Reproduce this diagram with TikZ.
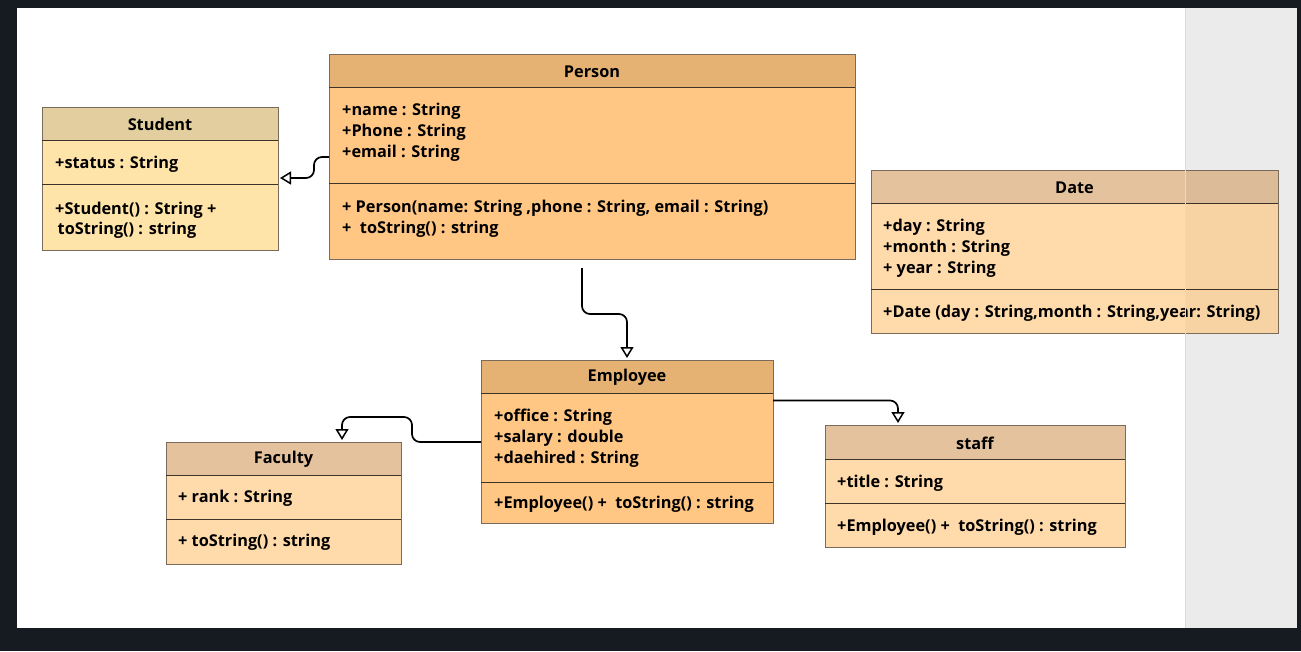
\documentclass[tikz,border=0pt]{standalone}
\usepackage{fontspec}
\setmainfont{Open Sans}
\usetikzlibrary{arrows.meta,calc}
\definecolor{frame}{HTML}{161B22}
\definecolor{panel}{HTML}{EBEBEB}
\definecolor{panelline}{HTML}{DADADA}
\definecolor{boxline}{HTML}{7A6B5A}
\definecolor{sepline}{HTML}{3D3329}
\definecolor{personHead}{HTML}{E5B274}
\definecolor{personBody}{HTML}{FFC684}
\definecolor{studentHead}{HTML}{E2CE9E}
\definecolor{studentBody}{HTML}{FFE4AA}
\definecolor{dateHead}{HTML}{E4C29E}
\definecolor{dateBody}{HTML}{FFDAAA}
\tikzset{
  sect/.style={draw=boxline, line width=1pt, inner sep=0pt, outer sep=0pt, anchor=north west},
  sepl/.style={draw=sepline, line width=1pt},
  lbl/.style={anchor=west, inner sep=0pt, align=left, font=\bfseries\fontsize{16.3}{21}\selectfont},
  ttl/.style={inner sep=0pt, font=\bfseries\fontsize{16.3}{21}\selectfont},
  gen/.style={draw=black, line width=1.7pt, rounded corners=8pt,
    -{Triangle[open, length=11pt, width=13pt, line width=1.5pt]}}
}
\begin{document}
\begin{tikzpicture}[x=1pt,y=-1pt]
% background
\fill[frame] (0,0) rectangle (1301,651);
\fill[white] (17,8) rectangle (1185,628);
\fill[panel] (1185,8) rectangle (1297,628);
\useasboundingbox (0,0) rectangle (1301,651);

% ---------- Person ----------
\node[sect, fill=personHead, minimum width=526pt, minimum height=33pt] (personH) at (329,54) {};
\node[sect, fill=personBody, minimum width=526pt, minimum height=96pt] (personA) at (329,87) {};
\node[sect, fill=personBody, minimum width=526pt, minimum height=76pt] (personM) at (329,183) {};
\draw[sepl] (personA.north west) -- (personA.north east);
\draw[sepl] (personM.north west) -- (personM.north east);
\node[ttl] (personT) at ([yshift=-1pt]personH.center) {Person};
\node[lbl] (personAttr) at (342,132.5) {+name : String\\+Phone : String\\+email : String};
\node[lbl] (personMeth) at (342,219) {+ Person(name: String ,phone : String, email : String)\\+\ \ toString() : string};

% ---------- Student ----------
\node[sect, fill=studentHead, minimum width=236pt, minimum height=33pt] (studentH) at (42,107) {};
\node[sect, fill=studentBody, minimum width=236pt, minimum height=44pt] (studentA) at (42,140) {};
\node[sect, fill=studentBody, minimum width=236pt, minimum height=66pt] (studentM) at (42,184) {};
\draw[sepl] (studentA.north west) -- (studentA.north east);
\draw[sepl] (studentM.north west) -- (studentM.north east);
\node[ttl] (studentT) at ([yshift=-1pt]studentH.center) {Student};
\node[lbl] (studentAttr) at (55,164) {+status : String};
\node[lbl, font=\bfseries\fontsize{16.3}{20}\selectfont] (studentMeth) at (55,220.5) {+Student() : String +\\\hspace{2.5pt}toString() : string};

% ---------- Date ----------
\node[sect, fill=dateHead, minimum width=407pt, minimum height=33pt] (dateH) at (871,170) {};
\node[sect, fill=dateBody, minimum width=407pt, minimum height=86pt] (dateA) at (871,203) {};
\node[sect, fill=dateBody, minimum width=407pt, minimum height=44pt] (dateM) at (871,289) {};
\draw[sepl] (dateA.north west) -- (dateA.north east);
\draw[sepl] (dateM.north west) -- (dateM.north east);
\node[ttl] (dateT) at ([yshift=-1pt]dateH.center) {Date};
\node[lbl] (dateAttr) at (883,248.5) {+day : String\\+month : String\\+ year : String};
\node[lbl] (dateMeth) at (883,313.5) {+Date (day : String,month : String,year: String)};

% ---------- Employee ----------
\node[sect, fill=personHead, minimum width=292pt, minimum height=33pt] (employeeH) at (481,360) {};
\node[sect, fill=personBody, minimum width=292pt, minimum height=89pt] (employeeA) at (481,393) {};
\node[sect, fill=personBody, minimum width=292pt, minimum height=41pt] (employeeM) at (481,482) {};
\draw[sepl] (employeeA.north west) -- (employeeA.north east);
\draw[sepl] (employeeM.north west) -- (employeeM.north east);
\node[ttl] (employeeT) at ([yshift=-1pt]employeeH.center) {Employee};
\node[lbl] (employeeAttr) at (494,438.5) {+office : String\\+salary : double\\+daehired : String};
\node[lbl] (employeeMeth) at (494,504.5) {+Employee() +\ \ toString() : string};

% ---------- Faculty ----------
\node[sect, fill=dateHead, minimum width=235pt, minimum height=33pt] (facultyH) at (166,442) {};
\node[sect, fill=dateBody, minimum width=235pt, minimum height=44pt] (facultyA) at (166,475) {};
\node[sect, fill=dateBody, minimum width=235pt, minimum height=45pt] (facultyM) at (166,519) {};
\draw[sepl] (facultyA.north west) -- (facultyA.north east);
\draw[sepl] (facultyM.north west) -- (facultyM.north east);
\node[ttl] (facultyT) at ([yshift=-1pt]facultyH.center) {Faculty};
\node[lbl] (facultyAttr) at (178,498.5) {+ rank : String};
\node[lbl] (facultyMeth) at (178,542.5) {+ toString() : string};

% ---------- staff ----------
\node[sect, fill=dateHead, minimum width=300pt, minimum height=34pt] (staffH) at (825,425) {};
\node[sect, fill=dateBody, minimum width=300pt, minimum height=44pt] (staffA) at (825,459) {};
\node[sect, fill=dateBody, minimum width=300pt, minimum height=44pt] (staffM) at (825,503) {};
\draw[sepl] (staffA.north west) -- (staffA.north east);
\draw[sepl] (staffM.north west) -- (staffM.north east);
\node[ttl] (staffT) at ([yshift=-1pt]staffH.center) {staff};
\node[lbl] (staffAttr) at (837,483.5) {+title : String};
\node[lbl] (staffMeth) at (837,527.5) {+Employee() +\ \ toString() : string};

% panel overlay over the Date box
\fill[black, opacity=0.03] (1185,170) rectangle (1278,333);
\draw[panelline] (1185,8) -- (1185,628);

% ---------- connectors ----------
\draw[gen] ([yshift=-22pt]personA.west) -- ++(-15,0) |- ([xshift=2pt,yshift=-16pt]studentA.east);
\draw[gen] ([shift={(-10pt,-9pt)}]personM.south) -- ++(0,46) -| ([yshift=2pt]employeeH.north);
\draw[gen] ([yshift=-4.5pt]employeeA.west) -- ++(-69,0) -- ++(0,-25) -| ([xshift=58.5pt,yshift=2pt]facultyH.north);
\draw[gen] ([yshift=37pt]employeeA.east) -| ([xshift=-77pt,yshift=2pt]staffH.north);
\end{tikzpicture}
\end{document}
